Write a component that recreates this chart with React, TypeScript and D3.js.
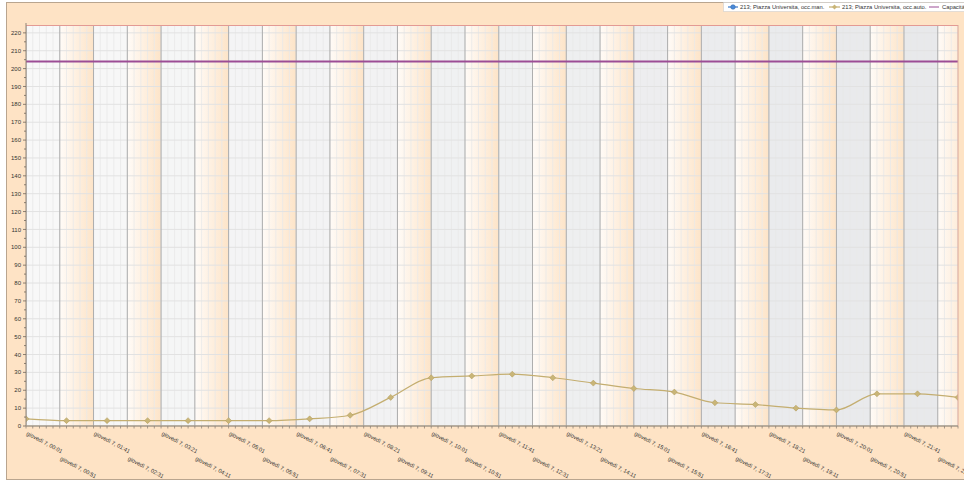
import React from "react";
import * as d3 from "d3";

const pointTimes = ["00:01","01:01","02:01","03:01","04:01","05:01","06:01","07:01","08:01","09:01","10:01","11:01","12:01","13:01","14:01","15:01","16:01","17:01","18:01","19:01","20:01","21:01","22:01","23:01"];
const occAuto = [4,3,3,3,3,3,3,4,6,16,27,28,29,27,24,21,19,13,12,10,9,18,18,16];
const capacity = 204;
const tickLabels = ["00:01","00:51","01:41","02:31","03:21","04:11","05:01","05:51","06:41","07:31","08:21","09:11","10:01","10:51","11:41","12:31","13:21","14:11","15:01","15:51","16:41","17:31","18:21","19:11","20:01","20:51","21:41","22:31"];
const dayPrefix = "giovedì 7, ";
const yTicks = d3.range(0, 221, 10);
const legendItems = ["213; Piazza Universita, occ.man.", "213; Piazza Universita, occ.auto.", "Capacità"];

const W = 964, H = 484;
const left = 26, right = 958, top = 25, bottom = 426;
const toMin = (s: string) => { const [h, m] = s.split(":").map(Number); return h * 60 + m; };

export default function App() {
  const x = d3.scaleLinear().domain([toMin(pointTimes[0]), toMin(pointTimes[pointTimes.length - 1])]).range([left, right]);
  const y = d3.scaleLinear().domain([0, capacity * 1.1]).range([bottom, top]);
  const tickMins = tickLabels.map(toMin);
  const bandW = tickMins[1] - tickMins[0];
  const greyScale = d3.interpolateRgb("#f8f8f8", "#e7e8eb");
  const minorMins = d3.range(tickMins[0], toMin(pointTimes[pointTimes.length - 1]) + 1, 10);
  const line = d3.line<number>().x((_, i) => x(toMin(pointTimes[i]))).y(d => y(d)).curve(d3.curveMonotoneX);
  const font = "'Liberation Sans', Arial, sans-serif";
  return (
    <svg width={W} height={H} style={{ position: "absolute", left: 0, top: 0 }} fontFamily={font}>
      <defs>
        <linearGradient id="og" x1="0" x2="1" y1="0" y2="0">
          <stop offset="0" stopColor="#fffbf7" />
          <stop offset="1" stopColor="#fde4c8" />
        </linearGradient>
        <clipPath id="plotclip"><rect x={left} y={top} width={right - left} height={bottom - top} /></clipPath>
      </defs>
      <rect x={0} y={0} width={W} height={H} fill="#fff" />
      <rect x={6.5} y={2.5} width={W} height={477} fill="#fee3c5" stroke="#b9a58f" strokeWidth={1} />
      <g clipPath="url(#plotclip)">
        <rect x={left} y={top} width={right - left} height={bottom - top} fill="#fff" />
        {tickMins.map((m, i) => {
          const x0 = x(m), x1 = x(m + bandW);
          return i % 2 === 0
            ? <rect key={i} x={x0} y={top} width={x1 - x0} height={bottom - top} fill={greyScale(i / (tickMins.length - 1))} />
            : <rect key={i} x={x0} y={top} width={x1 - x0} height={bottom - top} fill="url(#og)" />;
        })}
        {minorMins.map((m, i) => (
          <line key={i} x1={x(m)} x2={x(m)} y1={top} y2={bottom} stroke="#e8e8e8" strokeWidth={0.8} />
        ))}
        {yTicks.map(v => (
          <line key={v} x1={left} x2={right} y1={y(v)} y2={y(v)} stroke="#e2e2e2" strokeWidth={1} />
        ))}
        {tickMins.map((m, i) => (
          <line key={i} x1={x(m)} x2={x(m)} y1={top} y2={bottom} stroke="#adadad" strokeWidth={1} />
        ))}
        <line x1={left} x2={right} y1={y(capacity)} y2={y(capacity)} stroke="#9c4d95" strokeWidth={2} />
        <path d={line(occAuto) || ""} fill="none" stroke="#c4ae70" strokeWidth={1.2} />
        {occAuto.map((v, i) => {
          const cx = x(toMin(pointTimes[i])), cy = y(v);
          return <path key={i} d={`M${cx},${cy - 3}L${cx + 3},${cy}L${cx},${cy + 3}L${cx - 3},${cy}Z`} fill="#c9b577" stroke="#b09a5a" strokeWidth={0.5} />;
        })}
      </g>
      <line x1={left} x2={right} y1={top + 0.5} y2={top + 0.5} stroke="#e39a94" strokeWidth={1} />
      <line x1={right} x2={right} y1={top} y2={bottom} stroke="#d9a79a" strokeWidth={1} />
      <line x1={left} x2={left} y1={top - 2} y2={bottom} stroke="#8f8478" strokeWidth={1} />
      <line x1={left} x2={right} y1={bottom} y2={bottom} stroke="#a39888" strokeWidth={1.5} />
      {d3.range(0, capacity * 1.1, 5).map(v => (
        <line key={v} x1={left - (v % 10 === 0 ? 3 : 2)} x2={left} y1={y(v)} y2={y(v)} stroke="#6f665c" strokeWidth={0.8} />
      ))}
      {yTicks.map(v => (
        <text key={v} x={left - 5} y={y(v)} dy="0.35em" textAnchor="end" fontSize={6} fill="#333">{v}</text>
      ))}
      {minorMins.map((m, i) => (
        <line key={i} x1={x(m)} x2={x(m)} y1={bottom} y2={bottom + 2.5} stroke="#8f8478" strokeWidth={0.8} />
      ))}
      {tickLabels.map((t, i) => {
        const tx = x(tickMins[i]) + 1, ty = i % 2 === 0 ? 433 : 458;
        return (
          <text key={t} x={tx} y={ty} transform={`rotate(28 ${tx} ${ty})`} fontSize={5.6} fill="#333" dy="0.35em">{dayPrefix + t}</text>
        );
      })}
      <rect x={723.5} y={2.5} width={250} height={9} fill="#fff" stroke="#c8c8c8" strokeWidth={0.5} />
      <line x1={728} x2={738} y1={7} y2={7} stroke="#3a78c8" strokeWidth={1.2} />
      <circle cx={733} cy={7} r={2.3} fill="#4a8ad8" stroke="#2f64a8" strokeWidth={0.5} />
      <text x={740} y={7} dy="0.35em" fontSize={5.8} fill="#333">{legendItems[0]}</text>
      <line x1={829} x2={840} y1={7} y2={7} stroke="#c4ae70" strokeWidth={1.2} />
      <path d="M834.5,4.5L837,7L834.5,9.5L832,7Z" fill="#c9b577" />
      <text x={842} y={7} dy="0.35em" fontSize={5.8} fill="#333">{legendItems[1]}</text>
      <line x1={929} x2={939} y1={7} y2={7} stroke="#9c4d95" strokeWidth={1} />
      <text x={942} y={7} dy="0.35em" fontSize={5.8} fill="#333">{legendItems[2]}</text>
    </svg>
  );
}
